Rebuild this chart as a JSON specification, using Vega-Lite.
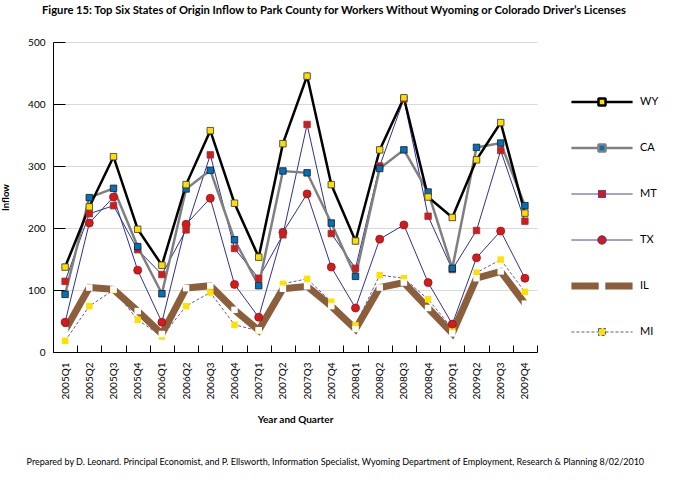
{
  "$schema": "https://vega.github.io/schema/vega-lite/v6.json",
  "background": "white",
  "padding": {"left": 0, "top": 4, "right": 0, "bottom": 0},
  "config": {
    "font": "Lato",
    "view": {"stroke": null},
    "concat": {"spacing": 0},
    "axis": {"labelFont": "Lato", "titleFont": "Lato", "labelColor": "#000", "titleColor": "#000", "domainColor": "#000", "tickColor": "#000"}
  },
  "title": {
    "text": "Prepared by D. Leonard. Principal Economist, and P. Ellsworth, Information Specialist, Wyoming Department of Employment, Research & Planning 8/02/2010",
    "orient": "bottom", "anchor": "start", "font": "Lato", "fontSize": 9, "fontWeight": "normal", "color": "#000", "offset": 34, "dx": 26
  },
  "vconcat": [
    {
      "width": 484,
      "height": 310,
      "title": {
        "text": "Figure 15: Top Six States of Origin Inflow to Park County for Workers Without Wyoming or Colorado Driver’s Licenses",
        "anchor": "start", "frame": "group", "dx": -11, "font": "Lato", "fontSize": 11.2, "fontWeight": "bold", "color": "#000", "offset": 21
      },
      "data": {
        "values": [
          {"q": "2005Q1", "s": "MI", "v": 18}, {"q": "2005Q2", "s": "MI", "v": 74}, {"q": "2005Q3", "s": "MI", "v": 100}, {"q": "2005Q4", "s": "MI", "v": 52},
          {"q": "2006Q1", "s": "MI", "v": 25}, {"q": "2006Q2", "s": "MI", "v": 74}, {"q": "2006Q3", "s": "MI", "v": 96}, {"q": "2006Q4", "s": "MI", "v": 44},
          {"q": "2007Q1", "s": "MI", "v": 34}, {"q": "2007Q2", "s": "MI", "v": 110}, {"q": "2007Q3", "s": "MI", "v": 118}, {"q": "2007Q4", "s": "MI", "v": 81},
          {"q": "2008Q1", "s": "MI", "v": 43}, {"q": "2008Q2", "s": "MI", "v": 124}, {"q": "2008Q3", "s": "MI", "v": 119}, {"q": "2008Q4", "s": "MI", "v": 85},
          {"q": "2009Q1", "s": "MI", "v": 38}, {"q": "2009Q2", "s": "MI", "v": 128}, {"q": "2009Q3", "s": "MI", "v": 149}, {"q": "2009Q4", "s": "MI", "v": 97},
          {"q": "2005Q1", "s": "IL", "v": 35}, {"q": "2005Q2", "s": "IL", "v": 104}, {"q": "2005Q3", "s": "IL", "v": 101}, {"q": "2005Q4", "s": "IL", "v": 66},
          {"q": "2006Q1", "s": "IL", "v": 29}, {"q": "2006Q2", "s": "IL", "v": 103}, {"q": "2006Q3", "s": "IL", "v": 107}, {"q": "2006Q4", "s": "IL", "v": 68},
          {"q": "2007Q1", "s": "IL", "v": 35}, {"q": "2007Q2", "s": "IL", "v": 102}, {"q": "2007Q3", "s": "IL", "v": 106}, {"q": "2007Q4", "s": "IL", "v": 74},
          {"q": "2008Q1", "s": "IL", "v": 37}, {"q": "2008Q2", "s": "IL", "v": 104}, {"q": "2008Q3", "s": "IL", "v": 112}, {"q": "2008Q4", "s": "IL", "v": 71},
          {"q": "2009Q1", "s": "IL", "v": 30}, {"q": "2009Q2", "s": "IL", "v": 119}, {"q": "2009Q3", "s": "IL", "v": 130}, {"q": "2009Q4", "s": "IL", "v": 78},
          {"q": "2005Q1", "s": "TX", "v": 48}, {"q": "2005Q2", "s": "TX", "v": 208}, {"q": "2005Q3", "s": "TX", "v": 250}, {"q": "2005Q4", "s": "TX", "v": 132},
          {"q": "2006Q1", "s": "TX", "v": 48}, {"q": "2006Q2", "s": "TX", "v": 206}, {"q": "2006Q3", "s": "TX", "v": 248}, {"q": "2006Q4", "s": "TX", "v": 109},
          {"q": "2007Q1", "s": "TX", "v": 56}, {"q": "2007Q2", "s": "TX", "v": 193}, {"q": "2007Q3", "s": "TX", "v": 255}, {"q": "2007Q4", "s": "TX", "v": 137},
          {"q": "2008Q1", "s": "TX", "v": 71}, {"q": "2008Q2", "s": "TX", "v": 182}, {"q": "2008Q3", "s": "TX", "v": 205}, {"q": "2008Q4", "s": "TX", "v": 112},
          {"q": "2009Q1", "s": "TX", "v": 45}, {"q": "2009Q2", "s": "TX", "v": 152}, {"q": "2009Q3", "s": "TX", "v": 195}, {"q": "2009Q4", "s": "TX", "v": 119},
          {"q": "2005Q1", "s": "MT", "v": 114}, {"q": "2005Q2", "s": "MT", "v": 223}, {"q": "2005Q3", "s": "MT", "v": 236}, {"q": "2005Q4", "s": "MT", "v": 165},
          {"q": "2006Q1", "s": "MT", "v": 125}, {"q": "2006Q2", "s": "MT", "v": 197}, {"q": "2006Q3", "s": "MT", "v": 318}, {"q": "2006Q4", "s": "MT", "v": 167},
          {"q": "2007Q1", "s": "MT", "v": 119}, {"q": "2007Q2", "s": "MT", "v": 189}, {"q": "2007Q3", "s": "MT", "v": 367}, {"q": "2007Q4", "s": "MT", "v": 191},
          {"q": "2008Q1", "s": "MT", "v": 135}, {"q": "2008Q2", "s": "MT", "v": 300}, {"q": "2008Q3", "s": "MT", "v": 408}, {"q": "2008Q4", "s": "MT", "v": 219},
          {"q": "2009Q1", "s": "MT", "v": 133}, {"q": "2009Q2", "s": "MT", "v": 196}, {"q": "2009Q3", "s": "MT", "v": 325}, {"q": "2009Q4", "s": "MT", "v": 211},
          {"q": "2005Q1", "s": "CA", "v": 93}, {"q": "2005Q2", "s": "CA", "v": 249}, {"q": "2005Q3", "s": "CA", "v": 264}, {"q": "2005Q4", "s": "CA", "v": 170},
          {"q": "2006Q1", "s": "CA", "v": 94}, {"q": "2006Q2", "s": "CA", "v": 263}, {"q": "2006Q3", "s": "CA", "v": 293}, {"q": "2006Q4", "s": "CA", "v": 181},
          {"q": "2007Q1", "s": "CA", "v": 107}, {"q": "2007Q2", "s": "CA", "v": 292}, {"q": "2007Q3", "s": "CA", "v": 289}, {"q": "2007Q4", "s": "CA", "v": 208},
          {"q": "2008Q1", "s": "CA", "v": 122}, {"q": "2008Q2", "s": "CA", "v": 296}, {"q": "2008Q3", "s": "CA", "v": 326}, {"q": "2008Q4", "s": "CA", "v": 258},
          {"q": "2009Q1", "s": "CA", "v": 135}, {"q": "2009Q2", "s": "CA", "v": 330}, {"q": "2009Q3", "s": "CA", "v": 337}, {"q": "2009Q4", "s": "CA", "v": 236},
          {"q": "2005Q1", "s": "WY", "v": 137}, {"q": "2005Q2", "s": "WY", "v": 234}, {"q": "2005Q3", "s": "WY", "v": 315}, {"q": "2005Q4", "s": "WY", "v": 198},
          {"q": "2006Q1", "s": "WY", "v": 140}, {"q": "2006Q2", "s": "WY", "v": 270}, {"q": "2006Q3", "s": "WY", "v": 357}, {"q": "2006Q4", "s": "WY", "v": 240},
          {"q": "2007Q1", "s": "WY", "v": 153}, {"q": "2007Q2", "s": "WY", "v": 336}, {"q": "2007Q3", "s": "WY", "v": 445}, {"q": "2007Q4", "s": "WY", "v": 270},
          {"q": "2008Q1", "s": "WY", "v": 179}, {"q": "2008Q2", "s": "WY", "v": 326}, {"q": "2008Q3", "s": "WY", "v": 410}, {"q": "2008Q4", "s": "WY", "v": 250},
          {"q": "2009Q1", "s": "WY", "v": 217}, {"q": "2009Q2", "s": "WY", "v": 310}, {"q": "2009Q3", "s": "WY", "v": 370}, {"q": "2009Q4", "s": "WY", "v": 224}
        ]
      },
      "encoding": {
        "x": {
          "field": "q", "type": "nominal", "sort": null,
          "axis": {
            "title": "Year and Quarter", "titleFontSize": 10, "titleFontWeight": "bold", "titlePadding": 15,
            "labelAngle": 270, "labelFontSize": 10, "labelPadding": 17,
            "tickBand": "extent", "tickSize": -7, "domainWidth": 1, "grid": false
          }
        },
        "y": {
          "field": "v", "type": "quantitative",
          "scale": {"domain": [0, 500], "nice": false},
          "axis": {
            "title": "Inflow", "titleFontSize": 9.5, "titleFontWeight": "bold", "titlePadding": 17,
            "values": [0, 100, 200, 300, 400, 500], "labelFontSize": 10, "labelPadding": 20,
            "tickSize": -12, "gridColor": "#D9D9D9", "gridWidth": 1, "domainWidth": 1
          }
        },
        "color": {
          "field": "s", "type": "nominal",
          "scale": {"domain": ["WY", "CA", "MT", "TX", "IL", "MI"], "range": ["#000000", "#808080", "#2E3192", "#2E3192", "#8B5E3C", "#2E3192"]},
          "legend": {
            "title": null, "orient": "none", "legendX": 549, "legendY": 60,
            "gridAlign": "all",
            "symbolSize": 1936, "rowPadding": 0, "labelFontSize": 11, "labelFont": "Lato", "labelColor": "#000",
            "symbolType": "M0,-0.98M0,0.98M-1.39,0L-0.16,0M0.16,0L1.39,0M-0.16,-0.16L0.16,-0.16L0.16,0.16L-0.16,0.16Z",
            "encode": {
              "labels": {"update": {"dx": {"value": 38}}},
              "symbols": {
                "update": {
                  "shape": {"signal": "datum.value === 'TX' ? 'M0,-0.98M0,0.98M-1.39,0L-0.19,0M0.19,0L1.39,0M-0.19,0A0.19,0.19,0,1,0,0.19,0A0.19,0.19,0,1,0,-0.19,0Z' : datum.value === 'IL' ? 'M0,-0.3M0,0.3M-1.39,0L-0.15,0M0.15,0L1.39,0' : 'M0,-0.98M0,0.98M-1.39,0L-0.16,0M0.16,0L1.39,0M-0.16,-0.16L0.16,-0.16L0.16,0.16L-0.16,0.16Z'"},
                  "fill": {"signal": "{'WY':'#FFDD00','CA':'#0072BC','MT':'#D7191C','TX':'#D7191C','IL':'transparent','MI':'#FFE100'}[datum.value]"},
                  "stroke": {"signal": "{'WY':'#000000','CA':'#808080','MT':'#2E3192','TX':'#2E3192','IL':'#8B5E3C','MI':'#2E3192'}[datum.value]"},
                  "strokeWidth": {"signal": "{'WY':2.5,'CA':2.5,'MT':1,'TX':1,'IL':7,'MI':0.8}[datum.value]"},
                  "strokeDash": {"signal": "datum.value === 'MI' ? [3,2] : [1,0]"},
                  "strokeJoin": {"value": "bevel"},
                  "opacity": {"value": 1}
                }
              }
            }
          }
        }
      },
      "layer": [
        {"transform": [{"filter": "datum.s === 'MI'"}], "mark": {"type": "line", "strokeWidth": 0.8, "strokeDash": [3, 2]}},
        {"transform": [{"filter": "datum.s === 'IL'"}], "mark": {"type": "line", "strokeWidth": 7, "strokeCap": "butt", "strokeJoin": "miter"}},
        {"transform": [{"filter": "datum.s === 'TX'"}], "mark": {"type": "line", "strokeWidth": 1}},
        {"transform": [{"filter": "datum.s === 'MT'"}], "mark": {"type": "line", "strokeWidth": 1}},
        {"transform": [{"filter": "datum.s === 'CA'"}], "mark": {"type": "line", "strokeWidth": 2.5}},
        {"transform": [{"filter": "datum.s === 'WY'"}], "mark": {"type": "line", "strokeWidth": 2.5}},
        {"transform": [{"filter": "datum.s === 'MI'"}], "mark": {"type": "square", "size": 42, "fill": "#FFE100", "stroke": null, "opacity": 1}, "encoding": {"color": {"value": "#FFE100"}}},
        {"transform": [{"filter": "datum.s === 'IL'"}], "mark": {"type": "square", "size": 42, "fill": "#FFFFFF", "stroke": null, "opacity": 1}, "encoding": {"color": {"value": "#FFFFFF"}}},
        {"transform": [{"filter": "datum.s === 'TX'"}], "mark": {"type": "circle", "size": 64, "opacity": 1, "filled": true, "strokeWidth": 0.8}, "encoding": {"color": {"value": "#D7191C"}, "stroke": {"value": "#8A1A1A"}}},
        {"transform": [{"filter": "datum.s === 'MT'"}], "mark": {"type": "square", "size": 42, "opacity": 1, "filled": true, "strokeWidth": 0.8}, "encoding": {"color": {"value": "#D7191C"}, "stroke": {"value": "#8A3A3A"}}},
        {"transform": [{"filter": "datum.s === 'CA'"}], "mark": {"type": "square", "size": 42, "opacity": 1, "filled": true, "strokeWidth": 0.8}, "encoding": {"color": {"value": "#0072BC"}, "stroke": {"value": "#1A1A1A"}}},
        {"transform": [{"filter": "datum.s === 'WY'"}], "mark": {"type": "square", "size": 42, "opacity": 1, "filled": true, "strokeWidth": 0.8}, "encoding": {"color": {"value": "#FFDD00"}, "stroke": {"value": "#333333"}}}
      ]
    }
  ]
}
